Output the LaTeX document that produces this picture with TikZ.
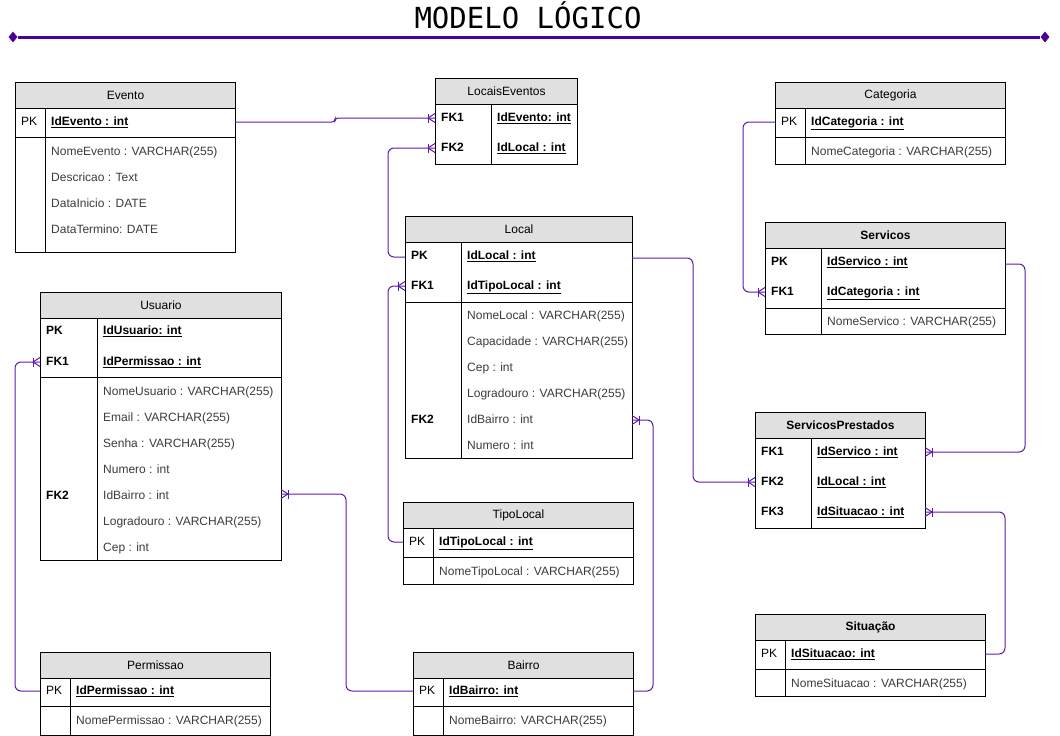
\documentclass[tikz,border=0pt]{standalone}
\usepackage{fontspec}
\setmainfont{Liberation Sans}
\newfontfamily\titlefont{DejaVu Sans Mono}
\usetikzlibrary{calc,shapes.geometric}
\definecolor{hdrgray}{RGB}{224,224,224}
\definecolor{relpurple}{RGB}{96,24,176}
\definecolor{titlepurple}{RGB}{76,0,153}
\definecolor{bodytext}{RGB}{60,60,60}
\newcommand\crowfoot[2]{%
  \draw[rel] ($(#1)+(#2*-7,-4.5)$) -- ($(#1)+(#2*-7,4.5)$);
  \draw[rel] ($(#1)+(#2*-7,0)$) -- ($(#1)+(0,-4.5)$);
  \draw[rel] ($(#1)+(#2*-7,0)$) -- ($(#1)+(0,4.5)$);
}
\begin{document}
\begin{tikzpicture}[x=1pt,y=-1pt,
  tbody/.style={draw=black, line width=1pt, fill=white, anchor=north west, inner sep=0pt},
  thead/.style={draw=black, line width=1pt, fill=hdrgray, anchor=north west, inner sep=0pt, minimum height=26pt, font=\fontsize{12pt}{14pt}\selectfont},
  theadb/.style={thead, font=\fontsize{12pt}{14pt}\selectfont\bfseries},
  tline/.style={line width=1pt, draw=black},
  txt/.style={anchor=west, inner sep=0pt, text height=9pt, text depth=2.5pt, font=\fontsize{12pt}{14pt}\selectfont},
  kl/.style={txt, text=black},
  klb/.style={txt, text=black, font=\fontsize{12pt}{14pt}\selectfont\bfseries},
  kf/.style={txt, text=black, font=\fontsize{12pt}{14pt}\selectfont\bfseries},
  bf/.style={txt, text=bodytext},
  rel/.style={draw=relpurple, line width=1pt},
  conn/.style={rel, rounded corners=6pt},
]
\useasboundingbox[fill=white] (0,0) rectangle (1060,736);

% Title
\node[anchor=base, inner sep=0pt, font=\titlefont\fontsize{29pt}{32pt}\selectfont] (title) at (528,28) {MODELO LÓGICO};
\node[diamond, fill=titlepurple, inner sep=0pt, minimum width=9pt, minimum height=11pt] (dl) at (13,37) {};
\node[diamond, fill=titlepurple, inner sep=0pt, minimum width=9pt, minimum height=11pt] (dr) at (1045,37) {};
\draw[titlepurple, line width=3pt] (dl) -- (dr);

% ---------- Evento ----------
\node[tbody, minimum width=220pt, minimum height=170pt] (evento) at (15,82) {};
\node[thead, minimum width=220pt] (evento-h) at (15,82) {Evento};
\draw[tline] (45,108) -- (45,252);
\draw[tline] (15,137) -- (235,137);
\node[kl] (ev-k1) at (21,122) {PK};
\node[kf] (ev-f1) at (51,122) {\underline{IdEvento : int}};
\node[bf] (ev-f2) at (51,152) {NomeEvento : VARCHAR(255)};
\node[bf] (ev-f3) at (51,178) {Descricao : Text};
\node[bf] (ev-f4) at (51,204) {DataInicio : DATE};
\node[bf] (ev-f5) at (51,230) {DataTermino: DATE};
\coordinate (ev-pk-r) at (235,122);

% ---------- LocaisEventos ----------
\node[tbody, minimum width=142pt, minimum height=86pt] (locev) at (435,78) {};
\node[thead, minimum width=142pt] (locev-h) at (435,78) {LocaisEventos};
\draw[tline] (491,104) -- (491,164);
\node[klb] (le-k1) at (441,118) {FK1};
\node[klb] (le-k2) at (441,148) {FK2};
\node[kf] (le-f1) at (497,118) {\underline{IdEvento: int}};
\node[kf] (le-f2) at (497,148) {\underline{IdLocal : int}};
\coordinate (le-fk1) at (435,118);
\coordinate (le-fk2) at (435,148);

% ---------- Categoria ----------
\node[tbody, minimum width=230pt, minimum height=82pt] (categoria) at (775,82) {};
\node[thead, minimum width=230pt] (categoria-h) at (775,82) {Categoria};
\draw[tline] (805,108) -- (805,164);
\draw[tline] (775,137) -- (1005,137);
\node[kl] (ca-k1) at (781,122) {PK};
\node[kf] (ca-f1) at (811,122) {\underline{IdCategoria : int}};
\node[bf] (ca-f2) at (811,152) {NomeCategoria : VARCHAR(255)};
\coordinate (ca-pk-l) at (775,122);

% ---------- Servicos ----------
\node[tbody, minimum width=240pt, minimum height=112pt] (servicos) at (765,222) {};
\node[theadb, minimum width=240pt] (servicos-h) at (765,222) {Servicos};
\draw[tline] (821,248) -- (821,334);
\draw[tline] (765,308) -- (1005,308);
\node[klb] (se-k1) at (771,262) {PK};
\node[klb] (se-k2) at (771,292) {FK1};
\node[kf] (se-f1) at (827,262) {\underline{IdServico : int}};
\node[kf] (se-f2) at (827,292) {\underline{IdCategoria : int}};
\node[bf] (se-f3) at (827,322) {NomeServico : VARCHAR(255)};
\coordinate (se-pk-r) at (1005,264);
\coordinate (se-fk1-l) at (765,292);

% ---------- Local ----------
\node[tbody, minimum width=227pt, minimum height=242pt] (local) at (405,216) {};
\node[thead, minimum width=227pt] (local-h) at (405,216) {Local};
\draw[tline] (461,242) -- (461,458);
\draw[tline] (405,302) -- (632,302);
\node[klb] (lo-k1) at (411,256) {PK};
\node[klb] (lo-k2) at (411,286) {FK1};
\node[klb] (lo-k3) at (411,420) {FK2};
\node[kf] (lo-f1) at (467,256) {\underline{IdLocal : int}};
\node[kf] (lo-f2) at (467,286) {\underline{IdTipoLocal : int}};
\node[bf] (lo-f3) at (467,316) {NomeLocal : VARCHAR(255)};
\node[bf] (lo-f4) at (467,342) {Capacidade : VARCHAR(255)};
\node[bf] (lo-f5) at (467,368) {Cep : int};
\node[bf] (lo-f6) at (467,394) {Logradouro : VARCHAR(255)};
\node[bf] (lo-f7) at (467,420) {IdBairro : int};
\node[bf] (lo-f8) at (467,446) {Numero : int};
\coordinate (lo-pk-l) at (405,257);
\coordinate (lo-pk-r) at (632,258);
\coordinate (lo-fk1-l) at (405,286);
\coordinate (lo-fk2-r) at (632,420);

% ---------- Usuario ----------
\node[tbody, minimum width=241pt, minimum height=268pt] (usuario) at (40,292) {};
\node[thead, minimum width=241pt] (usuario-h) at (40,292) {Usuario};
\draw[tline] (97,318) -- (97,560);
\draw[tline] (40,377) -- (281,377);
\node[klb] (us-k1) at (46,331) {PK};
\node[klb] (us-k2) at (46,362) {FK1};
\node[klb] (us-k3) at (46,496) {FK2};
\node[kf] (us-f1) at (103,331) {\underline{IdUsuario: int}};
\node[kf] (us-f2) at (103,362) {\underline{IdPermissao : int}};
\node[bf] (us-f3) at (103,392) {NomeUsuario : VARCHAR(255)};
\node[bf] (us-f4) at (103,418) {Email : VARCHAR(255)};
\node[bf] (us-f5) at (103,444) {Senha : VARCHAR(255)};
\node[bf] (us-f6) at (103,470) {Numero : int};
\node[bf] (us-f7) at (103,496) {IdBairro : int};
\node[bf] (us-f8) at (103,522) {Logradouro : VARCHAR(255)};
\node[bf] (us-f9) at (103,548) {Cep : int};
\coordinate (us-fk1-l) at (40,362);
\coordinate (us-fk2-r) at (281,494);

% ---------- ServicosPrestados ----------
\node[tbody, minimum width=170pt, minimum height=116pt] (servpre) at (755,412) {};
\node[theadb, minimum width=170pt] (servpre-h) at (755,412) {ServicosPrestados};
\draw[tline] (811,438) -- (811,528);
\node[klb] (sp-k1) at (761,452) {FK1};
\node[klb] (sp-k2) at (761,482) {FK2};
\node[klb] (sp-k3) at (761,512) {FK3};
\node[kf] (sp-f1) at (817,452) {\underline{IdServico : int}};
\node[kf] (sp-f2) at (817,482) {\underline{IdLocal : int}};
\node[kf] (sp-f3) at (817,512) {\underline{IdSituacao : int}};
\coordinate (sp-fk1-r) at (925,452);
\coordinate (sp-fk2-l) at (755,482);
\coordinate (sp-fk3-r) at (925,512);

% ---------- TipoLocal ----------
\node[tbody, minimum width=230pt, minimum height=82pt] (tipolocal) at (403,502) {};
\node[thead, minimum width=230pt] (tipolocal-h) at (403,502) {TipoLocal};
\draw[tline] (433,528) -- (433,584);
\draw[tline] (403,557) -- (633,557);
\node[kl] (tl-k1) at (409,542) {PK};
\node[kf] (tl-f1) at (439,542) {\underline{IdTipoLocal : int}};
\node[bf] (tl-f2) at (439,572) {NomeTipoLocal : VARCHAR(255)};
\coordinate (tl-pk-l) at (403,542);

% ---------- Situação ----------
\node[tbody, minimum width=230pt, minimum height=82pt] (situacao) at (755,614) {};
\node[theadb, minimum width=230pt] (situacao-h) at (755,614) {Situação};
\draw[tline] (785,640) -- (785,696);
\draw[tline] (755,669) -- (985,669);
\node[kl] (si-k1) at (761,654) {PK};
\node[kf] (si-f1) at (791,654) {\underline{IdSituacao: int}};
\node[bf] (si-f2) at (791,684) {NomeSituacao : VARCHAR(255)};
\coordinate (si-pk-r) at (985,654);

% ---------- Permissao ----------
\node[tbody, minimum width=230pt, minimum height=83pt] (permissao) at (40,652) {};
\node[thead, minimum width=230pt] (permissao-h) at (40,652) {Permissao};
\draw[tline] (70,678) -- (70,735);
\draw[tline] (40,706) -- (270,706);
\node[kl] (pe-k1) at (46,691) {PK};
\node[kf] (pe-f1) at (76,691) {\underline{IdPermissao : int}};
\node[bf] (pe-f2) at (76,721) {NomePermissao : VARCHAR(255)};
\coordinate (pe-pk-l) at (40,691);

% ---------- Bairro ----------
\node[tbody, minimum width=220pt, minimum height=83pt] (bairro) at (413,652) {};
\node[thead, minimum width=220pt] (bairro-h) at (413,652) {Bairro};
\draw[tline] (443,678) -- (443,735);
\draw[tline] (413,706) -- (633,706);
\node[kl] (ba-k1) at (419,691) {PK};
\node[kf] (ba-f1) at (449,691) {\underline{IdBairro: int}};
\node[bf] (ba-f2) at (449,721) {NomeBairro: VARCHAR(255)};
\coordinate (ba-pk-l) at (413,691);
\coordinate (ba-pk-r) at (633,691);

% ---------- Relationships ----------
\draw[rel, rounded corners=3pt] (ev-pk-r) -- ++(100,0) |- (le-fk1);
\draw[conn] (lo-pk-l) -- ++(-17,0) |- (le-fk2);
\draw[conn] (tl-pk-l) -- ++(-15,0) |- (lo-fk1-l);
\draw[conn] (lo-pk-r) -- ++(61,0) |- (sp-fk2-l);
\draw[conn] (ba-pk-r) -- ++(20,0) |- (lo-fk2-r);
\draw[conn] (ba-pk-l) -- ++(-67,0) |- (us-fk2-r);
\draw[conn] (pe-pk-l) -- ++(-25,0) |- (us-fk1-l);
\draw[conn] (ca-pk-l) -- ++(-32,0) |- (se-fk1-l);
\draw[conn] (se-pk-r) -- ++(20,0) |- (sp-fk1-r);
\draw[conn] (si-pk-r) -- ++(20,0) |- (sp-fk3-r);

\crowfoot{le-fk1}{1}
\crowfoot{le-fk2}{1}
\crowfoot{lo-fk1-l}{1}
\crowfoot{sp-fk2-l}{1}
\crowfoot{us-fk1-l}{1}
\crowfoot{se-fk1-l}{1}
\crowfoot{lo-fk2-r}{-1}
\crowfoot{us-fk2-r}{-1}
\crowfoot{sp-fk1-r}{-1}
\crowfoot{sp-fk3-r}{-1}
\end{tikzpicture}
\end{document}
